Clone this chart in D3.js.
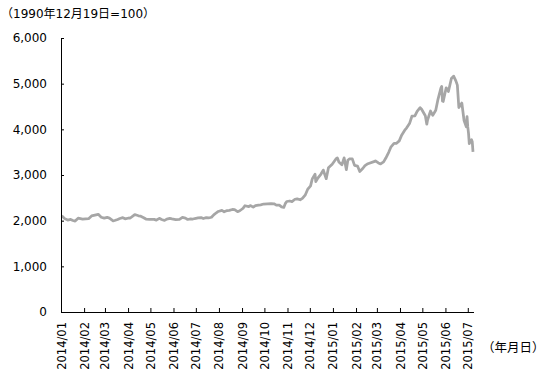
<!DOCTYPE html>
<html>
<head>
<meta charset="utf-8">
<script src="https://cdn.jsdelivr.net/npm/d3@7"></script>
<style>
  body { margin: 0; background: #fff; }
  text { font-family: "DejaVu Sans", "Noto Sans CJK JP", sans-serif; fill: #000; }
</style>
</head>
<body>
<div id="chart"></div>
<script>
// data
const dates = [
  '2014-01-02', '2014-01-06', '2014-01-10', '2014-01-14', '2014-01-17', '2014-01-20', '2014-01-24', '2014-01-30',
  '2014-02-07', '2014-02-11', '2014-02-14', '2014-02-20', '2014-02-24', '2014-02-28',
  '2014-03-04', '2014-03-07', '2014-03-12', '2014-03-14', '2014-03-18', '2014-03-21', '2014-03-25', '2014-03-28',
  '2014-04-02', '2014-04-04', '2014-04-10', '2014-04-15', '2014-04-18', '2014-04-22', '2014-04-25', '2014-04-30',
  '2014-05-06', '2014-05-09', '2014-05-13', '2014-05-16', '2014-05-20', '2014-05-23', '2014-05-27', '2014-05-30',
  '2014-06-04', '2014-06-09', '2014-06-13', '2014-06-17', '2014-06-20', '2014-06-24', '2014-06-27',
  '2014-07-01', '2014-07-04', '2014-07-08', '2014-07-11', '2014-07-15', '2014-07-18', '2014-07-22', '2014-07-25', '2014-07-29', '2014-07-31',
  '2014-08-05', '2014-08-08', '2014-08-12', '2014-08-15', '2014-08-19', '2014-08-22', '2014-08-26', '2014-08-29',
  '2014-09-02', '2014-09-05', '2014-09-10', '2014-09-12', '2014-09-16', '2014-09-19', '2014-09-23', '2014-09-26', '2014-09-30',
  '2014-10-10', '2014-10-14', '2014-10-17', '2014-10-21', '2014-10-24', '2014-10-27', '2014-10-29', '2014-10-31',
  '2014-11-04', '2014-11-07', '2014-11-11', '2014-11-14', '2014-11-18', '2014-11-21', '2014-11-25', '2014-11-28',
  '2014-12-02', '2014-12-04', '2014-12-05', '2014-12-08', '2014-12-09', '2014-12-12', '2014-12-16', '2014-12-19', '2014-12-23', '2014-12-26', '2014-12-31',
  '2015-01-05', '2015-01-07', '2015-01-09', '2015-01-13', '2015-01-16', '2015-01-19', '2015-01-21', '2015-01-23', '2015-01-27', '2015-01-30',
  '2015-02-03', '2015-02-06', '2015-02-10', '2015-02-13', '2015-02-17', '2015-02-26', '2015-02-27',
  '2015-03-03', '2015-03-06', '2015-03-10', '2015-03-13', '2015-03-17', '2015-03-20', '2015-03-24', '2015-03-27', '2015-03-31',
  '2015-04-03', '2015-04-08', '2015-04-10', '2015-04-14', '2015-04-17', '2015-04-21', '2015-04-24', '2015-04-28', '2015-04-30',
  '2015-05-05', '2015-05-07', '2015-05-08', '2015-05-12', '2015-05-15', '2015-05-19', '2015-05-22', '2015-05-26', '2015-05-27', '2015-05-28', '2015-05-29',
  '2015-06-02', '2015-06-05', '2015-06-09', '2015-06-12', '2015-06-15', '2015-06-17', '2015-06-19', '2015-06-23', '2015-06-26', '2015-06-29', '2015-06-30',
  '2015-07-01', '2015-07-02', '2015-07-03', '2015-07-06', '2015-07-07', '2015-07-08'
]

const values = [
  2109, 2045, 2013, 2027, 2004, 1991, 2054, 2033,
  2044, 2104, 2115, 2138, 2076, 2056,
  2072, 2057, 1997, 2004, 2025, 2047, 2066, 2041,
  2059, 2058, 2134, 2107, 2098, 2065, 2036, 2026,
  2028, 2011, 2051, 2027, 2005, 2034, 2050, 2039,
  2024, 2026, 2071, 2055, 2026, 2038, 2036,
  2050, 2059, 2068, 2046, 2067, 2059, 2075, 2127, 2178, 2201,
  2224, 2194, 2222, 2226, 2245, 2241, 2197, 2217,
  2266, 2327, 2307, 2331, 2296, 2329, 2339, 2347, 2364,
  2374, 2369, 2341, 2340, 2302, 2290, 2373, 2420,
  2431, 2418, 2469, 2478, 2457, 2487, 2567, 2683,
  2763, 2900, 2938, 3020, 2856, 2938, 3021, 3108, 2919, 3157, 3235,
  3351, 3374, 3285, 3223, 3376, 3116, 3323, 3351, 3353, 3211,
  3195, 3076, 3142, 3204, 3247, 3298, 3310,
  3264, 3242, 3286, 3372, 3502, 3617, 3691, 3691, 3748,
  3863, 3995, 4034, 4135, 4287, 4293, 4394, 4476, 4441,
  4298, 4112, 4205, 4401, 4308, 4417, 4657, 4910, 4941, 4621, 4611,
  4910, 4829, 5113, 5166, 5062, 4967, 4478, 4576, 4193, 4053, 4277,
  4053, 3912, 3687, 3775, 3727, 3507
]

const yTicks = [0, 1000, 2000, 3000, 4000, 5000, 6000]

const monthTicks = [
  '2014-01-01', '2014-02-01', '2014-03-01', '2014-04-01', '2014-05-01', '2014-06-01',
  '2014-07-01', '2014-08-01', '2014-09-01', '2014-10-01', '2014-11-01', '2014-12-01',
  '2015-01-01', '2015-02-01', '2015-03-01', '2015-04-01', '2015-05-01', '2015-06-01', '2015-07-01'
]

const parse = d3.timeParse('%Y-%m-%d')
const series = dates.map((d, i) => ({ date: parse(d), value: values[i] }))

// size
const W = 550
const H = 378
const plotLeft = 61
const plotRight = 473
const plotTop = 38
const plotBottom = 312

// scale
const x = d3
  .scaleTime()
  .domain([parse('2014-01-01'), parse('2015-07-08')])
  .range([plotLeft, plotRight])

const y = d3
  .scaleLinear()
  .domain([0, 6000])
  .range([plotBottom, plotTop])

const svg = d3
  .select('#chart')
  .append('svg')
  .attr('width', W)
  .attr('height', H)

// line
svg
  .append('path')
  .datum(series)
  .attr('fill', 'none')
  .attr('stroke', '#a6a6a6')
  .attr('stroke-width', 2.75)
  .attr('stroke-linejoin', 'round')
  .attr('d', d3.line().x(d => x(d.date)).y(d => y(d.value)))

// y-axis (ticks inside)
const yAxis = svg
  .append('g')
  .attr('transform', `translate(${plotLeft}, 0)`)
  .call(
    d3
      .axisRight(y)
      .tickValues(yTicks)
      .tickSize(3)
      .tickFormat(d3.format(',')),
  )
yAxis.select('.domain').attr('stroke', '#000').attr('d', `M0.5,${plotTop}V${plotBottom}`)
yAxis.selectAll('.tick line').attr('stroke', '#000')
yAxis
  .selectAll('.tick text')
  .attr('x', -14)
  .attr('text-anchor', 'end')
  .attr('font-size', '12px')

// x-axis (ticks inside)
const xAxis = svg
  .append('g')
  .attr('transform', `translate(0, ${plotBottom})`)
  .call(
    d3
      .axisTop(x)
      .tickValues(monthTicks.map(parse))
      .tickSize(4)
      .tickFormat(d3.timeFormat('%Y/%m')),
  )
xAxis.select('.domain').attr('stroke', '#000').attr('d', `M${plotLeft},0.5H${plotRight + 1}`)
xAxis.selectAll('.tick line').attr('stroke', '#000')
xAxis
  .selectAll('.tick text')
  .attr('font-size', '11.5px')
  .attr('text-anchor', 'end')
  .attr('transform', 'rotate(-90)')
  .attr('x', -10)
  .attr('y', 0)
  .attr('dy', '0.35em')

// unit label
svg
  .append('text')
  .attr('x', 1)
  .attr('y', 18)
  .attr('font-size', '12px')
  .text('（1990年12月19日=100）')

// x unit label
svg
  .append('text')
  .attr('x', 482)
  .attr('y', 352)
  .attr('font-size', '12.5px')
  .text('（年月日）')
</script>
</body>
</html>
